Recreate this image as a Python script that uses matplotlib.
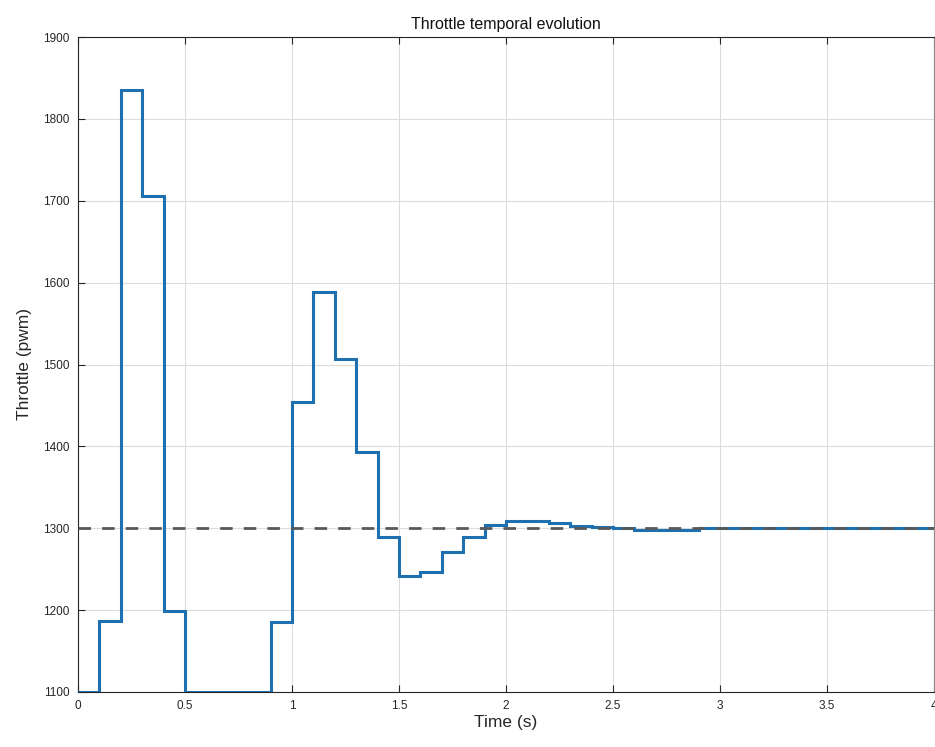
import numpy as np
import matplotlib.pyplot as plt

# step edges (s) and throttle levels (pwm)
step_edges = [0.0, 0.1, 0.2, 0.3, 0.4, 0.5, 0.6, 0.7, 0.8, 0.9, 1.0,
              1.1, 1.2, 1.3, 1.4, 1.5, 1.6, 1.7, 1.8, 1.9, 2.0,
              2.1, 2.2, 2.3, 2.4, 2.5, 2.6, 2.7, 2.8, 2.9, 4.0]
throttle = [1100, 1187, 1835, 1706, 1199, 1100, 1100, 1100, 1100, 1185,
            1454, 1588, 1507, 1393, 1289, 1242, 1247, 1271, 1289, 1304,
            1309, 1309, 1307, 1303, 1302, 1300, 1298, 1298, 1298, 1300]
hover_pwm = 1300
x_ticks = [0, 0.5, 1, 1.5, 2, 2.5, 3, 3.5, 4]
x_labels = ['0', '0.5', '1', '1.5', '2', '2.5', '3', '3.5', '4']
y_ticks = [1100, 1200, 1300, 1400, 1500, 1600, 1700, 1800, 1900]

plt.rcParams['font.family'] = ['Liberation Sans', 'DejaVu Sans']

fig = plt.figure(figsize=(9.35, 7.47), dpi=100)
ax = fig.add_axes([78/935, 55/747, 856/935, 655/747])

ax.stairs(throttle, step_edges, baseline=None, color='#1f70b0', linewidth=2.2, zorder=3)
ax.axhline(hover_pwm, color='#595959', linestyle=(0, (4.5, 4)), linewidth=2.0, zorder=4)

ax.set_xlim(0, 4)
ax.set_ylim(1100, 1900)
ax.set_xticks(x_ticks)
ax.set_xticklabels(x_labels)
ax.set_yticks(y_ticks)
ax.grid(True, color='#dcdcdc', linewidth=0.8)
ax.set_axisbelow(True)
ax.tick_params(direction='in', top=True, right=False, length=5, width=0.8,
               labelsize=8.5, colors='#262626', pad=6)
for s in ax.spines.values():
    s.set_color('#262626')
    s.set_linewidth(0.8)
ax.spines['right'].set_color('#888888')

ax.set_title('Throttle temporal evolution', fontsize=11.5, color='#111111', pad=6)
ax.set_xlabel('Time (s)', fontsize=12.5, color='#262626', labelpad=2)
ax.set_ylabel('Throttle (pwm)', fontsize=12.5, color='#262626', labelpad=8)

fig.savefig('out.png', dpi=100)
